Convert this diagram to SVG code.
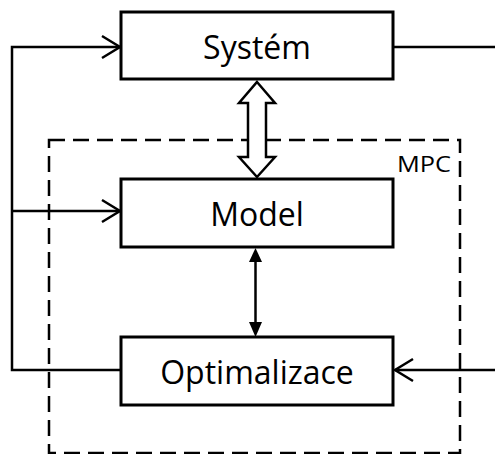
<svg xmlns="http://www.w3.org/2000/svg" width="495" height="454" viewBox="0 0 495 454">
<style>
.box{fill:#fff;stroke:#000;stroke-width:3}
.lbl{font-family:"Open Sans","Liberation Sans",sans-serif;font-size:32px;fill:#000;text-anchor:middle}
.ln{fill:none;stroke:#000;stroke-width:2.5}
.chev{fill:none;stroke:#000;stroke-width:2.5;stroke-linejoin:miter}
</style>
<rect width="495" height="454" fill="#fff"/>
<g id="mpc">
<rect x="49" y="140" width="411" height="313" fill="none" stroke="#000" stroke-width="2.5" stroke-dasharray="16,8"/>
<text x="424" y="172" font-family="Open Sans, Liberation Sans, sans-serif" font-size="21" text-anchor="middle" textLength="54" lengthAdjust="spacingAndGlyphs">MPC</text>
</g>
<g id="connectors">
<path class="ln" d="M120,47 H12 V370 H121"/>
<path class="ln" d="M12,211 H120"/>
<path class="chev" d="M102,36 L120,47 L102,58"/>
<path class="chev" d="M102,200 L120,211 L102,222"/>
<path class="ln" d="M393,47 H495"/>
<path class="ln" d="M495,370 H395"/>
<path class="chev" d="M413,359 L395,370 L413,381"/>
<path d="M257,82 L275,103 L266,103 L266,157 L275,157 L257,177 L239,157 L248,157 L248,103 L239,103 Z" fill="#fff" stroke="#000" stroke-width="2.5" stroke-linejoin="miter"/>
<path class="ln" d="M255.5,260 V324"/>
<path d="M255.5,248 L262,262 L249,262 Z" fill="#000"/>
<path d="M255.5,337 L262,322 L249,322 Z" fill="#000"/>
</g>
<g id="system">
<rect class="box" x="121" y="12" width="272" height="67"/>
<text class="lbl" x="257" y="59">Systém</text>
</g>
<g id="model">
<rect class="box" x="121" y="179" width="272" height="68"/>
<text class="lbl" x="257" y="226">Model</text>
</g>
<g id="optimalizace">
<rect class="box" x="121" y="337" width="272" height="68"/>
<text class="lbl" x="257" y="384">Optimalizace</text>
</g>
</svg>
